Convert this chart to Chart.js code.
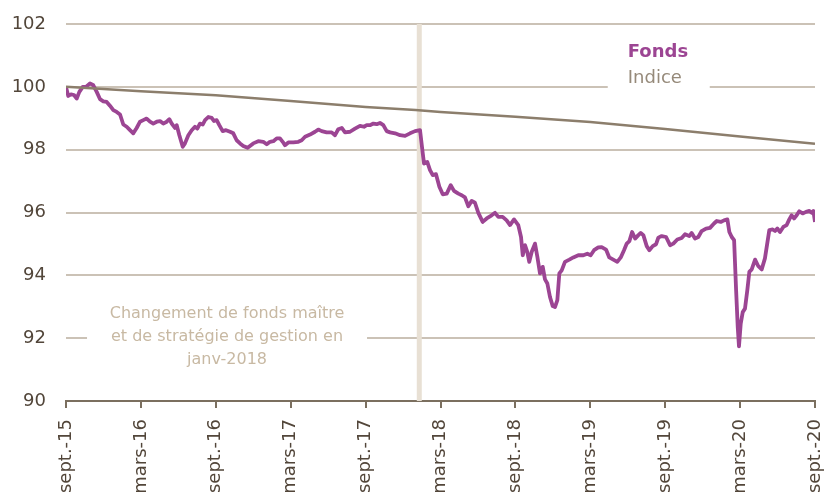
<!DOCTYPE html>
<html>
<head>
<meta charset="utf-8">
<script src="https://cdn.jsdelivr.net/npm/chart.js@4/dist/chart.umd.min.js"></script>
<style>
    body { margin: 0; background: #fff; }
    #wrap { width: 826px; height: 493px; position: relative; }
</style>
</head>
<body>
<div id="wrap"><canvas id="perfChart"></canvas></div>
<script>
// months counted from sept. 2015
const tickLabels = ['sept.-15', 'mars-16', 'sept.-16', 'mars-17', 'sept.-17', 'mars-18',
    'sept.-18', 'mars-19', 'sept.-19', 'mars-20', 'sept.-20'];

const fondsMonths = [
    0.00, 0.18, 0.40, 0.64, 0.86, 1.07, 1.34, 1.60, 1.92, 2.19, 2.46, 2.72, 2.99, 3.26, 3.52, 3.79,
    4.06, 4.33, 4.59, 4.86, 5.13, 5.39, 5.66, 5.93, 6.19, 6.46, 6.73, 6.99, 7.27, 7.53, 7.79, 8.07,
    8.28, 8.47, 8.73, 8.87, 9.08, 9.35, 9.53, 9.80, 10.07, 10.33, 10.52, 10.73, 10.95, 11.14, 11.40,
    11.67, 11.86, 12.07, 12.28, 12.55, 12.82, 13.14, 13.40, 13.67, 13.94, 14.20, 14.55, 15.00, 15.40,
    15.80, 16.08, 16.34, 16.61, 16.88, 17.14, 17.36, 17.54, 17.81, 18.21, 18.61, 18.88, 19.15, 19.55,
    19.95, 20.21, 20.48, 20.88, 21.28, 21.55, 21.81, 22.09, 22.35, 22.75, 23.15, 23.55, 23.87, 24.09,
    24.35, 24.62, 24.89, 25.15, 25.42, 25.69, 25.96, 26.36, 26.76, 27.16, 27.56, 27.96, 28.36,
    28.58, 28.68, 28.94, 29.16, 29.38, 29.64, 29.91, 30.18, 30.50, 30.82, 31.08, 31.43, 31.70, 31.96,
    32.23, 32.50, 32.76, 33.03, 33.38, 33.70, 34.10, 34.37, 34.63, 34.98, 35.30, 35.57, 35.89, 36.23,
    36.45, 36.59, 36.77, 36.95, 37.11, 37.31, 37.57, 37.76, 37.97, 38.19, 38.37, 38.56, 38.77, 38.99,
    39.17, 39.36, 39.52, 39.71, 39.97, 40.32, 40.64, 41.04, 41.44, 41.76, 42.03, 42.30, 42.64, 42.91,
    43.26, 43.52, 43.84, 44.16, 44.44, 44.70, 44.92, 45.13, 45.35, 45.59, 45.85, 46.04, 46.25, 46.52,
    46.73, 47.00, 47.27, 47.45, 47.72, 48.07, 48.39, 48.65, 48.97, 49.32, 49.59, 49.93, 50.12, 50.39,
    50.65, 50.92, 51.27, 51.59, 51.91, 52.13, 52.45, 52.71, 52.98, 53.14, 53.33, 53.52, 53.68, 53.81,
    53.91, 54.05, 54.21, 54.39, 54.58, 54.74, 54.93, 55.20, 55.46, 55.73, 55.99, 56.34, 56.61, 56.80,
    56.98, 57.20, 57.46, 57.73, 57.94, 58.13, 58.32, 58.53, 58.74, 59.01, 59.28, 59.55, 59.74, 59.87,
    60.00
];

const fondsValues = [
    100.00, 99.71, 99.76, 99.74, 99.63, 99.84, 100.00, 100.00, 100.11, 100.05, 99.84, 99.61, 99.54,
    99.52, 99.40, 99.26, 99.20, 99.12, 98.80, 98.73, 98.62, 98.52, 98.69, 98.89, 98.94, 98.99, 98.89,
    98.83, 98.89, 98.91, 98.83, 98.89, 98.97, 98.83, 98.69, 98.78, 98.46, 98.09, 98.20, 98.46, 98.62,
    98.73, 98.67, 98.83, 98.80, 98.94, 99.04, 99.01, 98.91, 98.94, 98.78, 98.59, 98.62, 98.57, 98.52,
    98.30, 98.20, 98.12, 98.06, 98.20, 98.27, 98.25, 98.17, 98.25, 98.27, 98.36, 98.36, 98.25, 98.14,
    98.23, 98.23, 98.25, 98.30, 98.41, 98.48, 98.57, 98.64, 98.59, 98.55, 98.55, 98.46, 98.65, 98.69,
    98.55, 98.57, 98.67, 98.76, 98.73, 98.78, 98.78, 98.83, 98.81, 98.85, 98.78, 98.59, 98.55, 98.52,
    98.46, 98.44, 98.52, 98.59, 98.62,
    97.88, 97.56, 97.61, 97.35, 97.19, 97.22, 96.82, 96.58, 96.60, 96.87, 96.69, 96.60, 96.55, 96.48,
    96.20, 96.37, 96.31, 95.99, 95.70, 95.81, 95.91, 95.99, 95.86, 95.86, 95.75, 95.60, 95.78, 95.60,
    95.22, 94.64, 94.96, 94.75, 94.43, 94.75, 95.01, 94.59, 94.06, 94.27, 93.87, 93.74, 93.31, 93.02,
    92.99, 93.21, 94.06, 94.16, 94.43, 94.50, 94.57, 94.64, 94.64, 94.69, 94.64, 94.80, 94.89, 94.90,
    94.82, 94.57, 94.50, 94.43, 94.57, 94.80, 95.01, 95.09, 95.38, 95.17, 95.28, 95.35, 95.28, 94.93,
    94.80, 94.93, 94.99, 95.20, 95.25, 95.22, 94.96, 95.01, 95.14, 95.19, 95.31, 95.25, 95.35, 95.17,
    95.22, 95.41, 95.49, 95.51, 95.65, 95.73, 95.70, 95.75, 95.78, 95.38, 95.22, 95.12, 93.53, 92.36,
    91.74, 92.46, 92.83, 92.94, 93.53, 94.11, 94.19, 94.50, 94.29, 94.19, 94.54, 95.44, 95.46, 95.41,
    95.49, 95.38, 95.54, 95.60, 95.78, 95.91, 95.81, 95.91, 96.04, 95.97, 96.02, 96.05, 95.99, 96.05,
    95.70
];

const indiceMonths = [0, 6, 12, 18, 24, 28, 30, 36, 42, 48, 54, 60];
const indiceValues = [100.00, 99.86, 99.73, 99.55, 99.36, 99.26, 99.20, 99.05, 98.88, 98.66, 98.42, 98.19];

// change of master fund: janv-2018
const changeMonth = 28.3;
const changeNote = ['Changement de fonds maître', 'et de stratégie de gestion en', 'janv-2018'];

const fondsColor = '#9c4593';
const indiceColor = '#8c7e6c';
const textColor = '#52463a';
const fontFamily = "'DejaVu Sans', Verdana, sans-serif";

// Plugin for the vertical band, the note and the text legend
const decorPlugin = {
    id: 'decor',
    beforeDatasetsDraw(chart) {
        const ctx = chart.ctx;
        const area = chart.chartArea;
        const xs = chart.scales.x;
        const ys = chart.scales.y;

        // vertical band
        const bx = xs.getPixelForValue(changeMonth);
        ctx.save();
        ctx.fillStyle = '#e8e0d4';
        ctx.fillRect(bx - 2.5, area.top, 5, area.bottom - area.top);

        // note box
        const nx = xs.getPixelForValue(12.9);
        const ny = ys.getPixelForValue(92);
        ctx.fillStyle = '#fff';
        ctx.fillRect(nx - 140, ny - 36, 280, 60);
        ctx.font = '16px ' + fontFamily;
        ctx.fillStyle = '#c8b9a3';
        ctx.textAlign = 'center';
        ctx.textBaseline = 'middle';
        changeNote.forEach((line, i) => {
            ctx.fillText(line, nx, ny - 24 + i * 23);
        });

        // legend box
        const lx = xs.getPixelForValue(45.0);
        const ly = ys.getPixelForValue(100);
        ctx.fillStyle = '#fff';
        ctx.fillRect(lx - 20, ly - 48, 102, 54);
        ctx.textAlign = 'left';
        ctx.font = 'bold 18px ' + fontFamily;
        ctx.fillStyle = fondsColor;
        ctx.fillText('Fonds', lx, ly - 35);
        ctx.font = '18px ' + fontFamily;
        ctx.fillStyle = '#968a7a';
        ctx.fillText('Indice', lx, ly - 9);
        ctx.restore();
    }
};

const ctx = document.getElementById('perfChart').getContext('2d');
new Chart(ctx, {
    type: 'line',
    data: {
        datasets: [
            {
                label: 'Indice',
                data: indiceMonths.map((m, i) => ({ x: m, y: indiceValues[i] })),
                borderColor: indiceColor,
                borderWidth: 2.5,
                pointRadius: 0,
                tension: 0
            },
            {
                label: 'Fonds',
                data: fondsMonths.map((m, i) => ({ x: m, y: fondsValues[i] })),
                borderColor: fondsColor,
                borderWidth: 3.8,
                borderJoinStyle: 'round',
                pointRadius: 0,
                tension: 0
            }
        ]
    },
    options: {
        responsive: true,
        maintainAspectRatio: false,
        animation: false,
        layout: { padding: { top: 24, right: 0, left: 0, bottom: 0 } },
        plugins: {
            legend: { display: false },
            tooltip: { enabled: false }
        },
        scales: {
            x: {
                type: 'linear',
                min: 0,
                max: 60,
                afterFit: scale => {
                    scale.height = 92;
                    scale.paddingLeft = 0;
                    scale.paddingRight = 11;
                },
                afterBuildTicks: scale => {
                    scale.ticks = tickLabels.map((t, i) => ({ value: i * 6 }));
                },
                ticks: {
                    stepSize: 6,
                    minRotation: 90,
                    maxRotation: 90,
                    padding: 11,
                    color: textColor,
                    font: { family: fontFamily, size: 18 },
                    callback: (value, index) => tickLabels[index]
                },
                grid: {
                    drawOnChartArea: false,
                    drawTicks: true,
                    tickLength: 7,
                    color: '#7b6f5f',
                    lineWidth: 2
                },
                border: { display: true, color: '#7b6f5f', width: 2 }
            },
            y: {
                min: 90,
                max: 102,
                afterFit: scale => {
                    scale.width = 66;
                    scale.paddingTop = 0;
                    scale.paddingBottom = 0;
                },
                ticks: {
                    stepSize: 2,
                    padding: 20,
                    color: textColor,
                    font: { family: fontFamily, size: 18 }
                },
                grid: {
                    drawTicks: false,
                    color: '#cbc2b6',
                    lineWidth: 2
                },
                border: { display: false }
            }
        }
    },
    plugins: [decorPlugin]
});
</script>
</body>
</html>
